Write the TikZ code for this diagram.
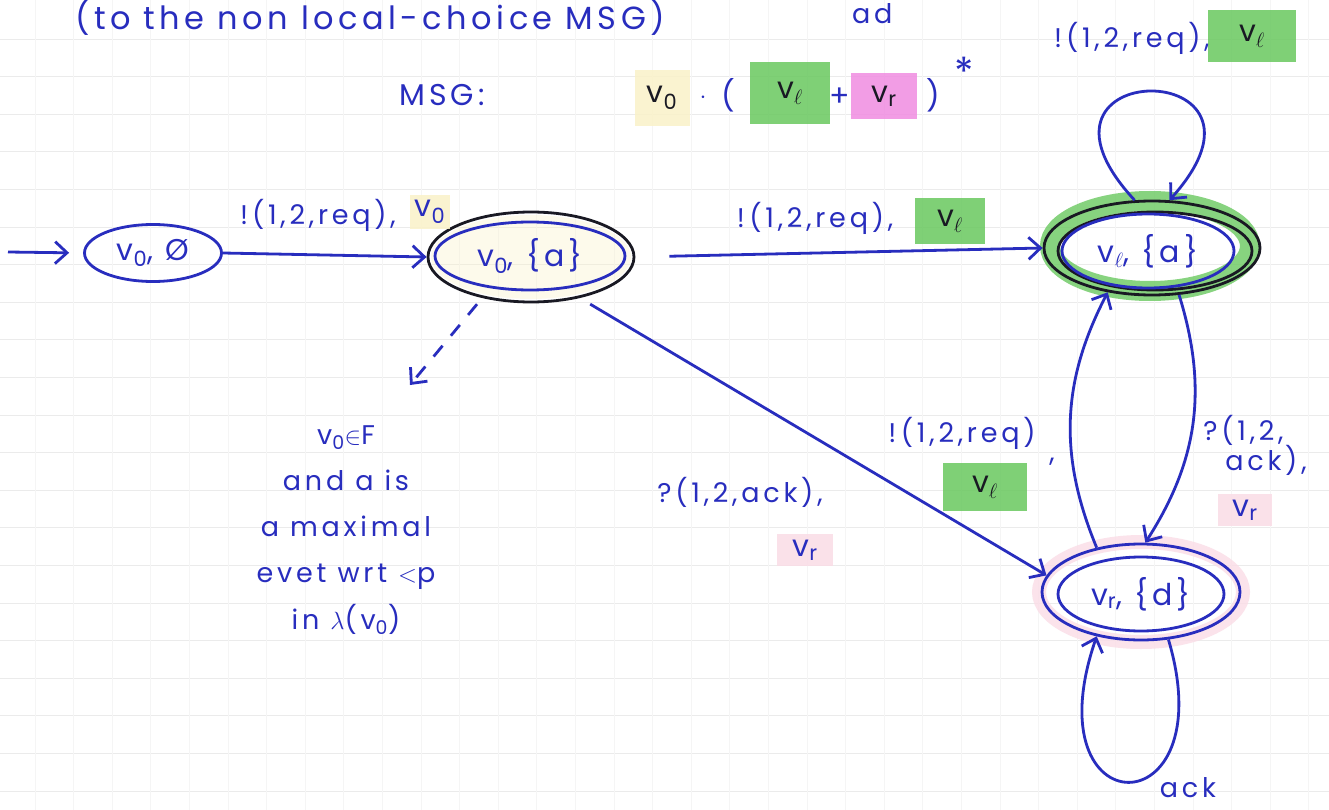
\documentclass[tikz,border=0pt]{standalone}
\usepackage{fontspec}
\setmainfont{Poppins}[LetterSpace=14]
\usetikzlibrary{shapes.geometric,arrows.meta}
\definecolor{ink}{RGB}{40,45,190}
\definecolor{pen}{RGB}{25,25,35}
\definecolor{hlgreen}{RGB}{105,200,95}
\definecolor{hlpink}{RGB}{240,140,225}
\definecolor{hlyellow}{RGB}{250,242,200}
\definecolor{hlpinkfaint}{RGB}{250,220,230}
\newcommand{\vsub}[1]{v\textsubscript{#1}}
\begin{document}
\begin{tikzpicture}[x=1pt,y=1pt,
  every node/.style={text=ink, font=\fontsize{30}{34}\selectfont, inner sep=2pt},
  lbl/.style={font=\fontsize{27}{32}\selectfont},
  arr/.style={draw=ink, line width=2.8pt, -{Straight Barb[length=12pt,width=22pt,line width=2.8pt]}},
  dasharr/.style={arr, dash pattern=on 14pt off 13pt},
  state/.style={ellipse, draw=ink, line width=2.8pt, inner sep=0pt},
  ring/.style={ellipse, draw=#1, line width=2.8pt, inner sep=0pt},
  hl/.style={fill=#1, text=pen, inner sep=0pt, opacity=0.85, text opacity=1},
  gridh/.style={draw=black!8, line width=0.7pt},
  gridv/.style={draw=black!4, line width=0.6pt}
]
\fill[white] (0,0) rectangle (1329,-810);
\useasboundingbox (0,0) rectangle (1329,-810);
% paper grid
\foreach \k in {0,...,20} \draw[gridh] (0,-39-37.6*\k) -- (1329,-39-37.6*\k);
\foreach \k in {-27,...,6} \draw[gridv] (1077+38.6*\k,0) -- (1077+38.6*\k,-810);

% header texts
\node[anchor=base, font=\fontsize{32}{36}\selectfont] (title) at (370,-30) {(to the non local-choice MSG)};
\node[anchor=base west, lbl] (cut) at (850,-24) {ad};
\node (msg) at (442,-95) {MSG:};
\node[hl=hlyellow, minimum width=55, minimum height=56] (e0) at (662,-98) {\vsub{0}};
\node (edot) at (703,-98) {$\cdot$};
\node (ep1) at (728,-95) {(};
\node[hl=hlgreen, minimum width=80, minimum height=62] (el) at (790,-93) {v$_\ell$};
\node (eplus) at (840,-97) {+};
\node[hl=hlpink, minimum width=66, minimum height=46] (er) at (884,-96) {\vsub{r}};
\node (ep2) at (933,-95) {)};
\node[font=\fontsize{40}{40}\selectfont] (estar) at (964,-72) {*};

% states
\node[state, minimum width=137, minimum height=57] (A) at (153,-253) {\vsub{0}, Ø};

\fill[hlyellow, opacity=0.35] (531,-257) ellipse [x radius=100, y radius=42];
\node[ring=pen, minimum width=206, minimum height=90] (Bo) at (531,-257) {};
\node[state, minimum width=190, minimum height=68] (B) at (530,-256) {\vsub{0}, \{a\}};

\draw[hlgreen, line width=20pt, opacity=0.8] (1150,-246) ellipse [x radius=100, y radius=45];
\node[ring=pen, minimum width=216, minimum height=94] (Co) at (1152,-248) {};
\node[ring=pen, minimum width=194, minimum height=78] (Ci) at (1155,-251) {};
\node[state, minimum width=172, minimum height=74] (C) at (1148,-251) {v$_\ell$, \{a\}};

\draw[hlpinkfaint, line width=14pt, opacity=0.8] (1141,-592) ellipse [x radius=102, y radius=50];
\node[ring=ink, minimum width=198, minimum height=96] (Do) at (1141,-592) {};
\node[state, minimum width=166, minimum height=74] (D) at (1141,-594) {\vsub{r}, \{d\}};

% initial arrow
\coordinate (init) at (8,-252);
\draw[arr] (init) -- (A.west) [shorten >=14pt];

% transitions
\draw[arr] (A.east) -- (Bo.west);
\node[lbl] (lab1) at (318,-215) {!(1,2,req),};
\node[hl=hlyellow, minimum width=40, minimum height=34, text=ink] (lab1v) at (430,-212) {\vsub{0}};

\draw[arr, shorten <=34pt] (Bo.east) -- (Co.west);
\node[lbl] (lab2) at (815,-218) {!\,(1,2,req),};
\node[hl=hlgreen, minimum width=70, minimum height=46] (lab2v) at (950,-221) {v$_\ell$};

\draw[arr, shorten <=12pt] (Bo.-40) -- (Do.170);
\node[lbl] (lab3) at (740,-492) {?(1,2,ack),};
\node[hl=hlpinkfaint, minimum width=56, minimum height=32, text=ink] (lab3v) at (805,-550) {\vsub{r}};

\draw[arr] (Do.135) to[bend left=25] (Co.-135);
\node[lbl] (lab4) at (962,-433) {!\,(1,2,req)};
\node[lbl] (lab4c) at (1052,-462) {,};
\node[hl=hlgreen, minimum width=84, minimum height=48] (lab4v) at (985,-487) {v$_\ell$};

\draw[arr] (Co.-60) to[bend left=25] (Do.85);
\node[lbl, align=left] (lab5) at (1255,-445) {?(1,2,\\[-2pt]\ \ ack),};
\node[hl=hlpinkfaint, minimum width=54, minimum height=32, text=ink] (lab5v) at (1245,-510) {\vsub{r}};

% self loops
\draw[arr] (Co.110) .. controls (1000,-55) and (1300,-55) .. (Co.70);
\node[lbl] (lab6) at (1132,-38) {!(1,2,req),};
\node[hl=hlgreen, minimum width=88, minimum height=52] (lab6v) at (1252,-36) {v$_\ell$};

\draw[arr] (Do.-60) .. controls (1225,-830) and (1030,-830) .. (Do.-135);
\node[lbl] (lab7) at (1188,-788) {ack};

% note
\node[lbl, align=center] (note) at (346,-530) {\vsub{0}$\in$F\\[14pt] and a is\\[14pt] a maximal\\[14pt] evet wrt $<$p\\[14pt] in $\lambda$(\vsub{0})};
\coordinate (dtip) at (410,-385);
\draw[dasharr, shorten <=8pt] (Bo.-140) -- (dtip);
\end{tikzpicture}
\end{document}
